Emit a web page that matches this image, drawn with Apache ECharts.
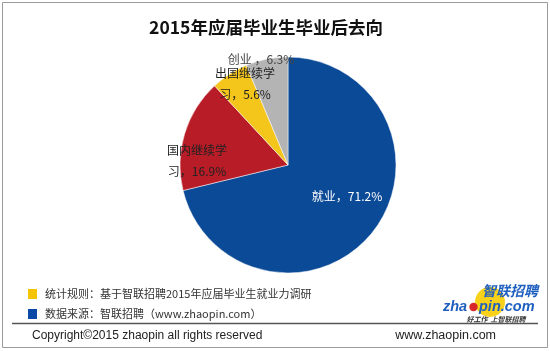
<!DOCTYPE html>
<html>
<head>
<meta charset="utf-8">
<script src="https://cdn.jsdelivr.net/npm/echarts@6/dist/echarts.min.js"></script>
<style>
html, body { margin: 0; padding: 0; background: #fff; }
#graph { width: 550px; height: 351px; }
</style>
</head>
<body>
<div id="graph"></div>
<script>
// data
let titleText = '2015年应届毕业生毕业后去向';
let categories = ['就业', '国内继续学习', '出国继续学习', '创业'];
let values = [71.2, 16.9, 5.6, 6.3];
let labelTexts = ['就业，71.2%', '国内继续学\n习，16.9%', '出国继续学\n习，5.6%', '创业 ，6.3%'];
let noteLines = ['统计规则：基于智联招聘2015年应届毕业生就业力调研', '数据来源：智联招聘（www.zhaopin.com）'];

let sliceColors = ['#0b4a96', '#b71c27', '#f4c51b', '#b4b4b4'];
let labelColors = ['#ffffff', '#222222', '#222222', '#444444'];
let labelSpots = [[347, 196], [197, 161], [245, 84], [261, 59]];
let font = '"Noto Sans CJK SC", "Noto Sans", sans-serif';
let latin = '"Liberation Sans", Arial, sans-serif';

let myChart = echarts.init(document.getElementById('graph'), null, {width: 550, height: 351});

let pieData = categories.map(function (name, i) {
	return {
		name: name,
		value: values[i],
		itemStyle: {color: sliceColors[i]},
		label: {color: labelColors[i]}
	};
});

let option = {
	animation: false,
	backgroundColor: '#fff',
	title: {
		text: titleText,
		left: 261,
		textAlign: 'center',
		top: 14,
		textStyle: {fontFamily: font, fontSize: 17.5, fontWeight: 'bold', color: '#111'}
	},
	series: [{
		type: 'pie',
		center: [288, 165],
		radius: 108,
		startAngle: 90,
		clockwise: true,
		silent: true,
		data: pieData,
		itemStyle: {borderColor: '#fff', borderWidth: 0.5},
		label: {
			show: true,
			position: 'inside',
			fontFamily: font,
			fontSize: 12,
			lineHeight: 21,
			align: 'center',
			formatter: function (p) { return labelTexts[p.dataIndex]; }
		},
		labelLine: {show: false},
		labelLayout: function (p) {
			let s = labelSpots[p.dataIndex];
			return {x: s[0], y: s[1], align: 'center', verticalAlign: 'middle'};
		}
	}],
	graphic: [
		// outer frame
		{type: 'rect', shape: {x: 2.5, y: 2.5, width: 545, height: 345}, style: {fill: 'none', stroke: '#9a9a9a', lineWidth: 1}},
		// notes
		{type: 'rect', shape: {x: 28, y: 289, width: 9, height: 10}, style: {fill: '#f5c400'}},
		{type: 'text', x: 45, y: 294, style: {text: noteLines[0], font: '11px ' + font, fill: '#333', verticalAlign: 'middle'}},
		{type: 'rect', shape: {x: 28, y: 309, width: 9, height: 10}, style: {fill: '#0a4aa6'}},
		{type: 'text', x: 45, y: 314, style: {text: noteLines[1], font: '11px ' + font, fill: '#333', verticalAlign: 'middle'}},
		// separator
		{type: 'line', shape: {x1: 12, y1: 323.5, x2: 538, y2: 323.5}, style: {stroke: '#555', lineWidth: 1.5}},
		// footer
		{type: 'text', x: 32, y: 336, style: {text: 'Copyright©2015 zhaopin all rights reserved', font: '12px ' + latin, fill: '#222', verticalAlign: 'middle'}},
		{type: 'text', x: 496, y: 336, style: {text: 'www.zhaopin.com', font: '12.5px ' + latin, fill: '#222', align: 'right', verticalAlign: 'middle'}},
		// logo
		{type: 'circle', shape: {cx: 490, cy: 302, r: 15}, style: {fill: '#f7d11a'}},
		{type: 'text', x: 538, y: 291, style: {text: '智联招聘', font: 'italic bold 14px ' + font, fill: '#1f5fbf', align: 'right', verticalAlign: 'middle'}},
		{type: 'text', x: 443, y: 307, style: {text: 'zha', font: 'italic bold 14.5px ' + latin, fill: '#1f5fbf', verticalAlign: 'middle'}},
		{type: 'circle', shape: {cx: 473.5, cy: 307, r: 4.2}, style: {fill: '#d8262b'}},
		{type: 'text', x: 479, y: 307, style: {text: 'pin.com', font: 'italic bold 14.5px ' + latin, fill: '#1f5fbf', verticalAlign: 'middle'}},
		{type: 'text', x: 496, y: 319, style: {text: '好工作  上智联招聘', font: 'italic bold 7px ' + font, fill: '#333', align: 'center', verticalAlign: 'middle'}}
	]
};

myChart.setOption(option);
</script>
</body>
</html>
